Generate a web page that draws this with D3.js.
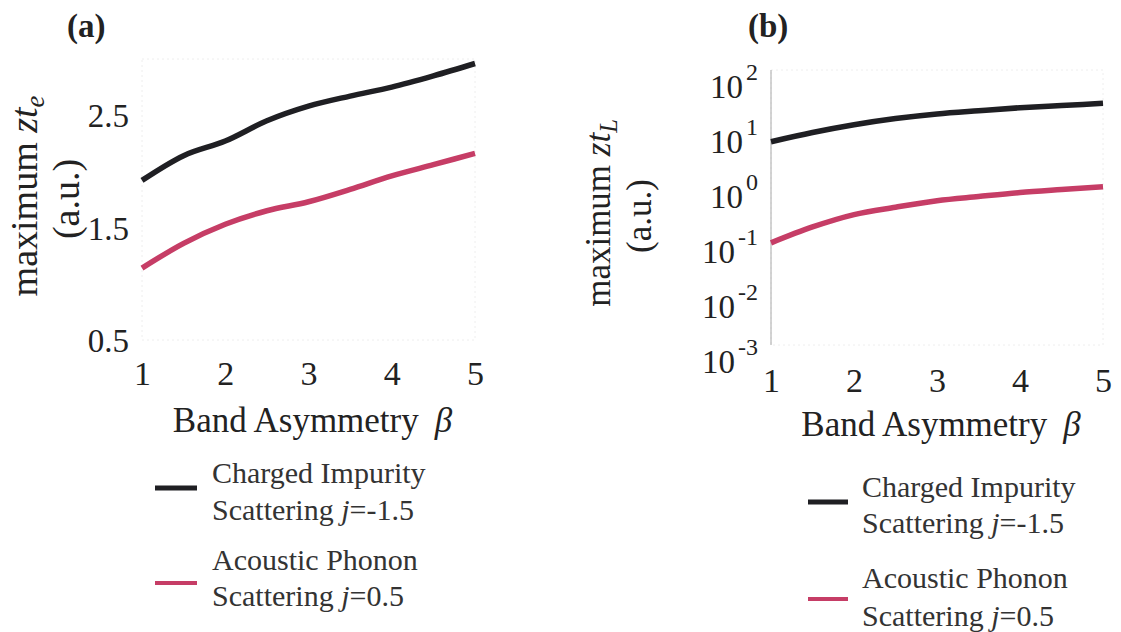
<!DOCTYPE html>
<html>
<head>
<meta charset="utf-8">
<script src="https://cdn.jsdelivr.net/npm/d3@7"></script>
<style>
  html, body { margin: 0; padding: 0; background: #fff; }
  svg, svg text { font-family: "Liberation Serif", "Times New Roman", Times, "DejaVu Serif", serif; }
</style>
</head>
<body>
<svg id="chart" width="1121" height="632"></svg>
<script>
// --- data ---
const beta = [1, 1.5, 2, 2.5, 3, 3.5, 4, 4.5, 5];
const zteCharged  = [1.92, 2.14, 2.27, 2.45, 2.58, 2.67, 2.75, 2.85, 2.96];
const zteAcoustic = [1.14, 1.36, 1.53, 1.65, 1.73, 1.84, 1.96, 2.06, 2.16];
const ztlCharged  = [4.97, 7.3, 10.1, 13.1, 15.9, 18.2, 20.6, 22.6, 24.8];
const ztlAcoustic = [0.072, 0.14, 0.235, 0.32, 0.42, 0.50, 0.59, 0.67, 0.755];
const xTicks = [1, 2, 3, 4, 5];
const yTicksA = [0.5, 1.5, 2.5];
const yTicksB = [1e-3, 1e-2, 1e-1, 1e0, 1e1, 1e2];

const FONT = '"Liberation Serif", "Times New Roman", Times, "DejaVu Serif", serif';
const BLACK = '#1f1f23', PINK = '#c63d66';
const svg = d3.select('#chart');
svg.append('rect').attr('width', 1121).attr('height', 632).attr('fill', '#fff');

function line(x, y, vals) {
  return d3.line().x((d, i) => x(beta[i])).y(d => y(d)).curve(d3.curveMonotoneX)(vals);
}

function panel(opts) {
  const { x, y, ticksY, fmtY, title, titleX, ylabX, aunX, ylabY, ylabSize, sub, xlabY, xTickY, series, legend } = opts;
  const g = svg.append('g').style('font-family', FONT);
  const [x0, x1] = x.range(), [y0, y1] = y.range();

  // faint frame
  g.append('rect').attr('x', x0).attr('y', y1).attr('width', x1 - x0).attr('height', y0 - y1)
    .attr('fill', 'none').attr('stroke', '#eee').attr('stroke-width', 1).attr('stroke-dasharray', '2,3');
  if (opts.leftLine) g.append('line').attr('x1', x0).attr('x2', x0).attr('y1', y1).attr('y2', y0)
    .attr('stroke', '#a8a8a8').attr('stroke-width', 1);

  // x axis labels
  const ax = g.append('g').attr('transform', `translate(0,${xTickY})`)
    .call(d3.axisBottom(x).tickValues(xTicks).tickSize(0).tickPadding(0).tickFormat(d3.format('d')));
  ax.attr('font-family', null).select('.domain').remove();
  ax.selectAll('text').style('font-family', FONT).attr('font-size', 34).attr('fill', '#222').attr('dy', 0);

  // y axis labels
  const ay = g.append('g').attr('transform', `translate(${opts.yTickX},0)`)
    .call(d3.axisLeft(y).tickValues(ticksY).tickSize(0).tickPadding(0).tickFormat(''));
  ay.attr('font-family', null).select('.domain').remove();
  ay.selectAll('text').style('font-family', FONT).attr('font-size', 33).attr('fill', '#222')
    .attr('dy', opts.yTickDy).each(fmtY);

  // series
  series.forEach(s => {
    g.append('path').attr('d', line(x, y, s.vals)).attr('fill', 'none')
      .attr('stroke', s.color).attr('stroke-width', 5.5).attr('stroke-linecap', 'butt');
  });

  // title
  g.append('text').attr('x', titleX).attr('y', 37).attr('font-size', 33).attr('font-weight', 'bold')
    .attr('fill', '#222').text(title);

  // y label
  const yl = g.append('text').attr('transform', `translate(${ylabX},${ylabY}) rotate(-90)`)
    .attr('text-anchor', 'middle').attr('font-size', ylabSize).attr('fill', '#222');
  yl.append('tspan').text('maximum ');
  yl.append('tspan').attr('font-style', 'italic').text('zt');
  yl.append('tspan').attr('font-style', 'italic').attr('font-size', ylabSize * 0.7).attr('dy', 7).text(sub);
  g.append('text').attr('transform', `translate(${aunX},${ylabY + 3}) rotate(-90)`)
    .attr('text-anchor', 'middle').attr('font-size', ylabSize).attr('fill', '#222').text('(a.u.)');

  // x label
  const xl = g.append('text').attr('x', (x0 + x1) / 2 + 4).attr('y', xlabY).attr('text-anchor', 'middle')
    .attr('font-size', 35).attr('fill', '#222');
  xl.append('tspan').text('Band Asymmetry');
  xl.append('tspan').attr('dx', 16).attr('font-style', 'italic').text('β');

  // legend
  legend.items.forEach((it, i) => {
    const cy = legend.lineY[i];
    g.append('line').attr('x1', legend.x0).attr('x2', legend.x1).attr('y1', cy).attr('y2', cy)
      .attr('stroke', it.color).attr('stroke-width', i === 0 ? 5 : 4);
    g.append('text').attr('x', legend.tx).attr('y', legend.textY[i][0])
      .attr('font-size', 30).attr('fill', '#333').text(it.l1);
    const t2 = g.append('text').attr('x', legend.tx).attr('y', legend.textY[i][1])
      .attr('font-size', 30).attr('fill', '#333');
    t2.append('tspan').text('Scattering ');
    t2.append('tspan').attr('font-style', 'italic').text('j');
    t2.append('tspan').text(it.l2);
  });
}

const legendItems = [
  { color: BLACK, l1: 'Charged Impurity', l2: '=-1.5' },
  { color: PINK, l1: 'Acoustic Phonon', l2: '=0.5' }
];

// panel (a)
panel({
  x: d3.scaleLinear().domain([1, 5]).range([142, 475]),
  y: d3.scaleLinear().domain([0.5, 3]).range([340, 59]),
  ticksY: yTicksA,
  yTickX: 129, yTickDy: '0.35em',
  fmtY: function(d) { d3.select(this).text(d3.format('.1f')(d)); },
  title: '(a)', titleX: 67,
  ylabX: 37, aunX: 79, ylabY: 196, ylabSize: 38, sub: 'e',
  xTickY: 385, xlabY: 432,
  series: [{ vals: zteCharged, color: BLACK }, { vals: zteAcoustic, color: PINK }],
  legend: { x0: 155, x1: 197, tx: 212, lineY: [488, 583], textY: [[483, 520], [570, 606]], items: legendItems }
});

// panel (b)
panel({
  x: d3.scaleLinear().domain([1, 5]).range([771, 1103]),
  y: d3.scaleLog().domain([1e-3, 1e2]).range([345, 70]),
  ticksY: yTicksB,
  yTickX: 758, yTickDy: 27,
  leftLine: true,
  fmtY: function(d) {
    const t = d3.select(this);
    t.text('');
    t.append('tspan').text('10');
    t.append('tspan').attr('font-size', 24).attr('dy', -18).attr('dx', 3).text(Math.round(Math.log10(d)));
  },
  title: '(b)', titleX: 748,
  ylabX: 610, aunX: 651, ylabY: 213, ylabSize: 35, sub: 'L',
  xTickY: 392, xlabY: 436,
  series: [{ vals: ztlCharged, color: BLACK }, { vals: ztlAcoustic, color: PINK }],
  legend: { x0: 808, x1: 848, tx: 862, lineY: [502, 599], textY: [[497, 533], [588, 626]], items: legendItems }
});
</script>
</body>
</html>
